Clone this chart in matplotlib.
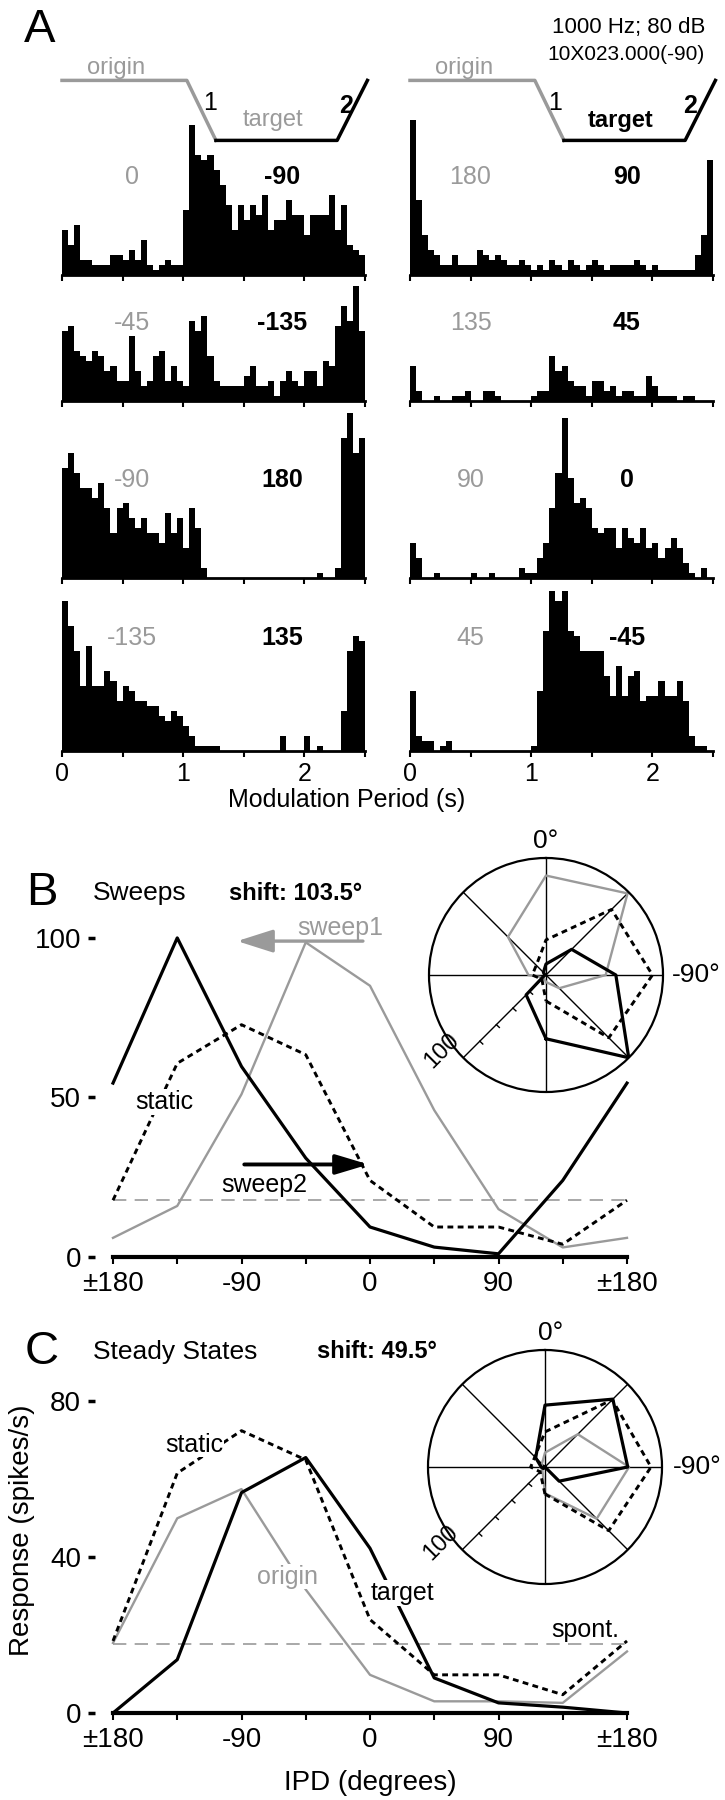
import numpy as np
import matplotlib
matplotlib.use("Agg")
import matplotlib.pyplot as plt

plt.rcParams['font.family'] = ['Liberation Sans', 'DejaVu Sans']

W, H = 725, 1800
GRAY = '#9a9a9a'

# ---------------- panel A: PSTHs (counts per 50 ms bin, 0-2.5 s) ----------------
bin_width = 0.05
psth_left_1 = [9, 6, 10, 3, 3, 2, 2, 2, 4, 4,
               3, 5, 3, 7, 2, 1, 2, 3, 2, 2,
               13, 30, 24, 23, 24, 21, 18, 14, 9, 14,
               11, 14, 12, 16, 9, 11, 11, 15, 12, 12,
               8, 12, 12, 12, 16, 9, 14, 6, 5, 4]
psth_left_2 = [14, 15, 10, 9, 8, 10, 9, 6, 7, 4,
               4, 13, 6, 3, 4, 9, 10, 4, 7, 4,
               3, 16, 14, 17, 9, 4, 3, 3, 3, 3,
               5, 7, 3, 3, 4, 1, 4, 6, 4, 3,
               6, 6, 3, 8, 7, 15, 19, 16, 23, 14]
psth_left_3 = [22, 25, 21, 18, 18, 16, 19, 14, 9, 14,
               15, 12, 10, 12, 9, 9, 7, 13, 9, 12,
               6, 14, 10, 2, 0, 0, 0, 0, 0, 0,
               0, 0, 0, 0, 0, 0, 0, 0, 0, 0,
               0, 0, 1, 0, 0, 2, 28, 33, 25, 28]
psth_left_4 = [30, 25, 20, 13, 21, 13, 13, 16, 14, 10,
               13, 12, 10, 10, 9, 9, 7, 6, 8, 7,
               5, 3, 1, 1, 1, 1, 0, 0, 0, 0,
               0, 0, 0, 0, 0, 0, 3, 0, 0, 0,
               3, 0, 1, 0, 0, 0, 8, 20, 23, 22]
psth_right_1 = [31, 15, 8, 5, 4, 2, 2, 4, 2, 2,
                2, 5, 4, 3, 4, 3, 2, 2, 3, 2,
                1, 2, 1, 3, 2, 1, 3, 2, 1, 2,
                3, 2, 1, 2, 2, 2, 2, 3, 2, 1,
                2, 1, 1, 1, 1, 1, 1, 4, 8, 23]
psth_right_2 = [7, 2, 0, 0, 1, 0, 0, 1, 1, 2,
                0, 0, 2, 2, 1, 0, 0, 0, 0, 0,
                1, 2, 2, 9, 6, 7, 4, 3, 3, 1,
                4, 4, 2, 3, 1, 2, 2, 1, 1, 5,
                3, 1, 1, 1, 0, 1, 1, 0, 0, 0]
psth_right_3 = [7, 4, 0, 0, 1, 0, 0, 0, 0, 0,
                1, 0, 0, 1, 0, 0, 0, 0, 2, 1,
                1, 4, 7, 14, 21, 32, 20, 15, 16, 14,
                10, 9, 10, 10, 6, 10, 8, 7, 10, 6,
                7, 4, 6, 8, 6, 3, 1, 0, 2, 0]
psth_right_4 = [12, 3, 2, 2, 0, 1, 2, 0, 0, 0,
                0, 0, 0, 0, 0, 0, 0, 0, 0, 0,
                1, 12, 24, 32, 30, 32, 24, 23, 20, 20,
                20, 20, 15, 11, 17, 11, 15, 16, 10, 11,
                11, 14, 11, 11, 14, 10, 3, 1, 1, 0]

origin_left = ['0', '-45', '-90', '-135']
target_left = ['-90', '-135', '180', '135']
origin_right = ['180', '135', '90', '45']
target_right = ['90', '45', '0', '-45']

# stimulus schematic: origin -> sweep 1 -> target -> sweep 2
sched_t = [0, 1.03, 1.27, 2.27, 2.52]
sched_level = [1, 1, 0, 0, 1]

# ---------------- panels B and C: IPD tuning (spikes/s) ----------------
ipd = [-180, -135, -90, -45, 0, 45, 90, 135, 180]
sweep1 = [6, 16, 51, 98.6, 85, 46, 15, 3, 6]
sweep2 = [54.5, 100, 59.7, 31, 9.4, 3.1, 1, 24, 54.5]
static_b = [17.8, 60.7, 72.8, 63.4, 24, 9.4, 9.4, 4, 17.8]
spont_b = 18

target_c = [0, 13.7, 56.6, 65.6, 42.3, 9, 2.6, 1.5, 0]
origin_c = [18, 50, 57.5, 31.7, 9.8, 3, 3, 2.6, 15.8]
static_c = [18.5, 61.6, 72.5, 65, 24, 9.8, 9.8, 4.7, 18.5]
spont_c = 17.8

fig = plt.figure(figsize=(W / 100, H / 100), dpi=100)


def px_axes(left, top, width, height, **kw):
    return fig.add_axes([left / W, 1 - (top + height) / H, width / W, height / H], **kw)


def ftext(x, y, s, **kw):
    kw.setdefault('ha', 'center')
    kw.setdefault('va', 'center')
    fig.text(x / W, 1 - y / H, s, **kw)


# ---------------- panel A ----------------
PX_PER_COUNT = 5.0
HIST_W = 303
YMAX = 34
col_left = [62, 410]
baselines = [275, 401, 578, 751]
psths = [[psth_left_1, psth_left_2, psth_left_3, psth_left_4],
         [psth_right_1, psth_right_2, psth_right_3, psth_right_4]]
origin_lbl = [origin_left, origin_right]
target_lbl = [target_left, target_right]
lbl_t = [(0.58, 1.82), (0.5, 1.79)]
row_lbl_y = [177, 323, 480, 638]

for c in range(2):
    for r in range(4):
        h = YMAX * PX_PER_COUNT
        ax = px_axes(col_left[c], baselines[r] - h, HIST_W, h)
        ax.set_facecolor('none')
        counts = psths[c][r]
        edges = np.arange(len(counts)) * bin_width
        ax.bar(edges, counts, width=bin_width, align='edge', color='black', linewidth=0)
        ax.set_xlim(0, 2.5)
        ax.set_ylim(0, YMAX)
        for s in ['top', 'right', 'left']:
            ax.spines[s].set_visible(False)
        ax.spines['bottom'].set_linewidth(2)
        ax.set_yticks([])
        ax.set_xticks(np.arange(0, 2.51, 0.5))
        if r == 3:
            ax.set_xticklabels(['0', '', '1', '', '2', ''], fontsize=18)
        else:
            ax.set_xticklabels([])
        ax.tick_params(axis='x', direction='out', length=4, width=1.5, pad=4)

        x0 = col_left[c]
        ftext(x0 + lbl_t[c][0] * 121, row_lbl_y[r], origin_lbl[c][r], color=GRAY, fontsize=18)
        ftext(x0 + lbl_t[c][1] * 121, row_lbl_y[r], target_lbl[c][r], color='black',
              fontsize=18, fontweight='bold')

    # schematic above first row
    sx = px_axes(col_left[c], 60, HIST_W, 90)
    sx.set_xlim(0, 2.5)
    sx.set_ylim(-0.16, 1.34)
    sx.axis('off')
    sx.plot(sched_t[:3], sched_level[:3], color=GRAY, lw=2.5, clip_on=False)
    sx.plot(sched_t[2:], sched_level[2:], color='black', lw=2.5, clip_on=False)
    sx.text(0.45, 1.2, 'origin', color=GRAY, fontsize=17, ha='center', va='center')
    sx.text(1.22 if c == 0 else 1.2, 0.62, '1', fontsize=18, ha='center', va='center')
    sx.text(2.34 if c == 0 else 2.31, 0.58, '2', fontsize=18, ha='center', va='center',
            fontweight='bold')
    if c == 0:
        sx.text(1.74, 0.34, 'target', color=GRAY, fontsize=17, ha='center', va='center')
    else:
        sx.text(1.74, 0.34, 'target', color='black', fontsize=17, ha='center', va='center',
                fontweight='bold')

ftext(40, 30, 'A', fontsize=34)
ftext(705, 28, '1000 Hz; 80 dB', ha='right', fontsize=16)
ftext(705, 54, '10X023.000(-90)', ha='right', fontsize=15)
ftext(347, 800, 'Modulation Period (s)', fontsize=18)


# ---------------- panels B and C ----------------
def ipd_axes(top, height, ymax, yticks):
    ax = px_axes(113, top, 514, height)
    ax.set_facecolor('none')
    ax.set_xlim(-180, 180)
    ax.set_ylim(0, ymax)
    for s in ['top', 'right']:
        ax.spines[s].set_visible(False)
    ax.spines['left'].set_position(('outward', 13))
    ax.spines['left'].set_visible(False)
    ax.spines['bottom'].set_linewidth(3)
    ax.spines['bottom'].set_zorder(5)
    ax.set_xticks([-180, -90, 0, 90, 180])
    ax.set_xticklabels(['±180', '-90', '0', '90', '±180'], fontsize=20)
    ax.set_xticks([-135, -45, 45, 135], minor=True)
    ax.tick_params(axis='x', which='both', direction='out', length=5, width=1.5, pad=5)
    ax.set_yticks(yticks)
    ax.set_yticklabels([str(v) for v in yticks], fontsize=20)
    ax.tick_params(axis='y', direction='out', length=5, width=2.5, pad=5)
    return ax


lbl_box = dict(facecolor='white', edgecolor='none', pad=0.5)
dash_k = (0, (2, 1.5))
dash_g = (0, (8, 5))

axb = ipd_axes(906, 351, 110, [0, 50, 100])
axb.plot(ipd, [spont_b] * len(ipd), color=GRAY, lw=1.2, ls=dash_g, clip_on=False)
axb.plot(ipd, sweep1, color=GRAY, lw=1.7, clip_on=False)
axb.plot(ipd, static_b, color='black', lw=2.1, ls=dash_k, clip_on=False)
axb.plot(ipd, sweep2, color='black', lw=2.3, clip_on=False)
axb.text(-144, 48.6, 'static', fontsize=18, ha='center', va='center', bbox=lbl_box)
axb.text(-21, 103, 'sweep1', color=GRAY, fontsize=18, ha='center', va='center')
axb.text(-74, 22.6, 'sweep2', fontsize=18, ha='center', va='center', bbox=lbl_box)
axb.annotate('', xy=(-95, 99), xytext=(-3, 99),
             arrowprops=dict(arrowstyle='-|>,head_length=1.1,head_width=0.35',
                             mutation_scale=20, lw=2.4, color=GRAY))
axb.annotate('', xy=(1, 29), xytext=(-90, 29),
             arrowprops=dict(arrowstyle='-|>,head_length=1.0,head_width=0.3',
                             mutation_scale=20, lw=2.8, color='black'))
ftext(42, 893, 'B', fontsize=34)
ftext(93, 893, 'Sweeps', ha='left', fontsize=19)
ftext(229, 893, 'shift: 103.5°', ha='left', fontsize=17, fontweight='bold')

axc = ipd_axes(1382, 331, 85, [0, 40, 80])
axc.plot(ipd, [spont_c] * len(ipd), color=GRAY, lw=1.2, ls=dash_g, clip_on=False)
axc.plot(ipd, origin_c, color=GRAY, lw=1.7, clip_on=False)
axc.plot(ipd, static_c, color='black', lw=2.1, ls=dash_k, clip_on=False)
axc.plot(ipd, target_c, color='black', lw=2.3, clip_on=False)
axc.text(-123, 68.9, 'static', fontsize=18, ha='center', va='center', bbox=lbl_box)
axc.text(-58, 35, 'origin', color=GRAY, fontsize=18, ha='center', va='center', bbox=lbl_box)
axc.text(23, 30.8, 'target', fontsize=18, ha='center', va='center', bbox=lbl_box)
axc.text(151, 21.3, 'spont.', fontsize=18, ha='center', va='center')
axc.set_xlabel('IPD (degrees)', fontsize=20, labelpad=12)
ftext(42, 1352, 'C', fontsize=34)
ftext(93, 1352, 'Steady States', ha='left', fontsize=19)
ftext(317, 1352, 'shift: 49.5°', ha='left', fontsize=17, fontweight='bold')
ftext(22, 1530, 'Response (spikes/s)', rotation=90, fontsize=20)

# ---------------- polar insets ----------------
R = 117


def polar_inset(cx, cy, rmax, frame=True):
    ax = px_axes(cx - R, cy - R, 2 * R, 2 * R, projection='polar')
    ax.set_theta_zero_location('N')
    ax.set_ylim(0, rmax)
    ax.set_xticks([])
    ax.set_yticks([])
    ax.grid(False)
    ax.set_facecolor('none')
    if not frame:
        ax.spines['polar'].set_visible(False)
        return ax
    ax.spines['polar'].set_linewidth(1.6)
    for a in range(0, 360, 45):
        ax.plot([np.deg2rad(a)] * 2, [0, rmax], color='black', lw=1.0)
    spoke = np.deg2rad(135)
    for f in [0.2, 0.4, 0.6, 0.8]:
        r = f * rmax
        d = 0.035 * rmax / r
        ax.plot([spoke, spoke + d], [r, r], color='black', lw=1.0)
    ax.text(np.deg2rad(126), 1.1 * rmax, '100', rotation=45, fontsize=17,
            ha='center', va='center')
    return ax


def closed(vals):
    th = np.deg2rad(ipd[:-1] + ipd[:1])
    return th, list(vals[:-1]) + [vals[0]]


pb = polar_inset(546, 975, 100)
pb.plot(*closed(sweep1), color=GRAY, lw=1.7)
pb.plot(*closed(sweep2), color='black', lw=2.3)
pb2 = polar_inset(546, 975, 80, frame=False)
pb2.plot(*closed(static_b), color='black', lw=2.1, ls=dash_k)
ftext(546, 841, '0°', fontsize=19)
ftext(672, 975, '-90°', ha='left', fontsize=19)

pc = polar_inset(545, 1467, 80)
pc.plot(*closed(origin_c), color=GRAY, lw=1.7)
pc.plot(*closed(static_c), color='black', lw=2.1, ls=dash_k)
pc.plot(*closed(target_c), color='black', lw=2.3)
ftext(551, 1333, '0°', fontsize=19)
ftext(673, 1467, '-90°', ha='left', fontsize=19)

fig.savefig('out.png', dpi=100)
